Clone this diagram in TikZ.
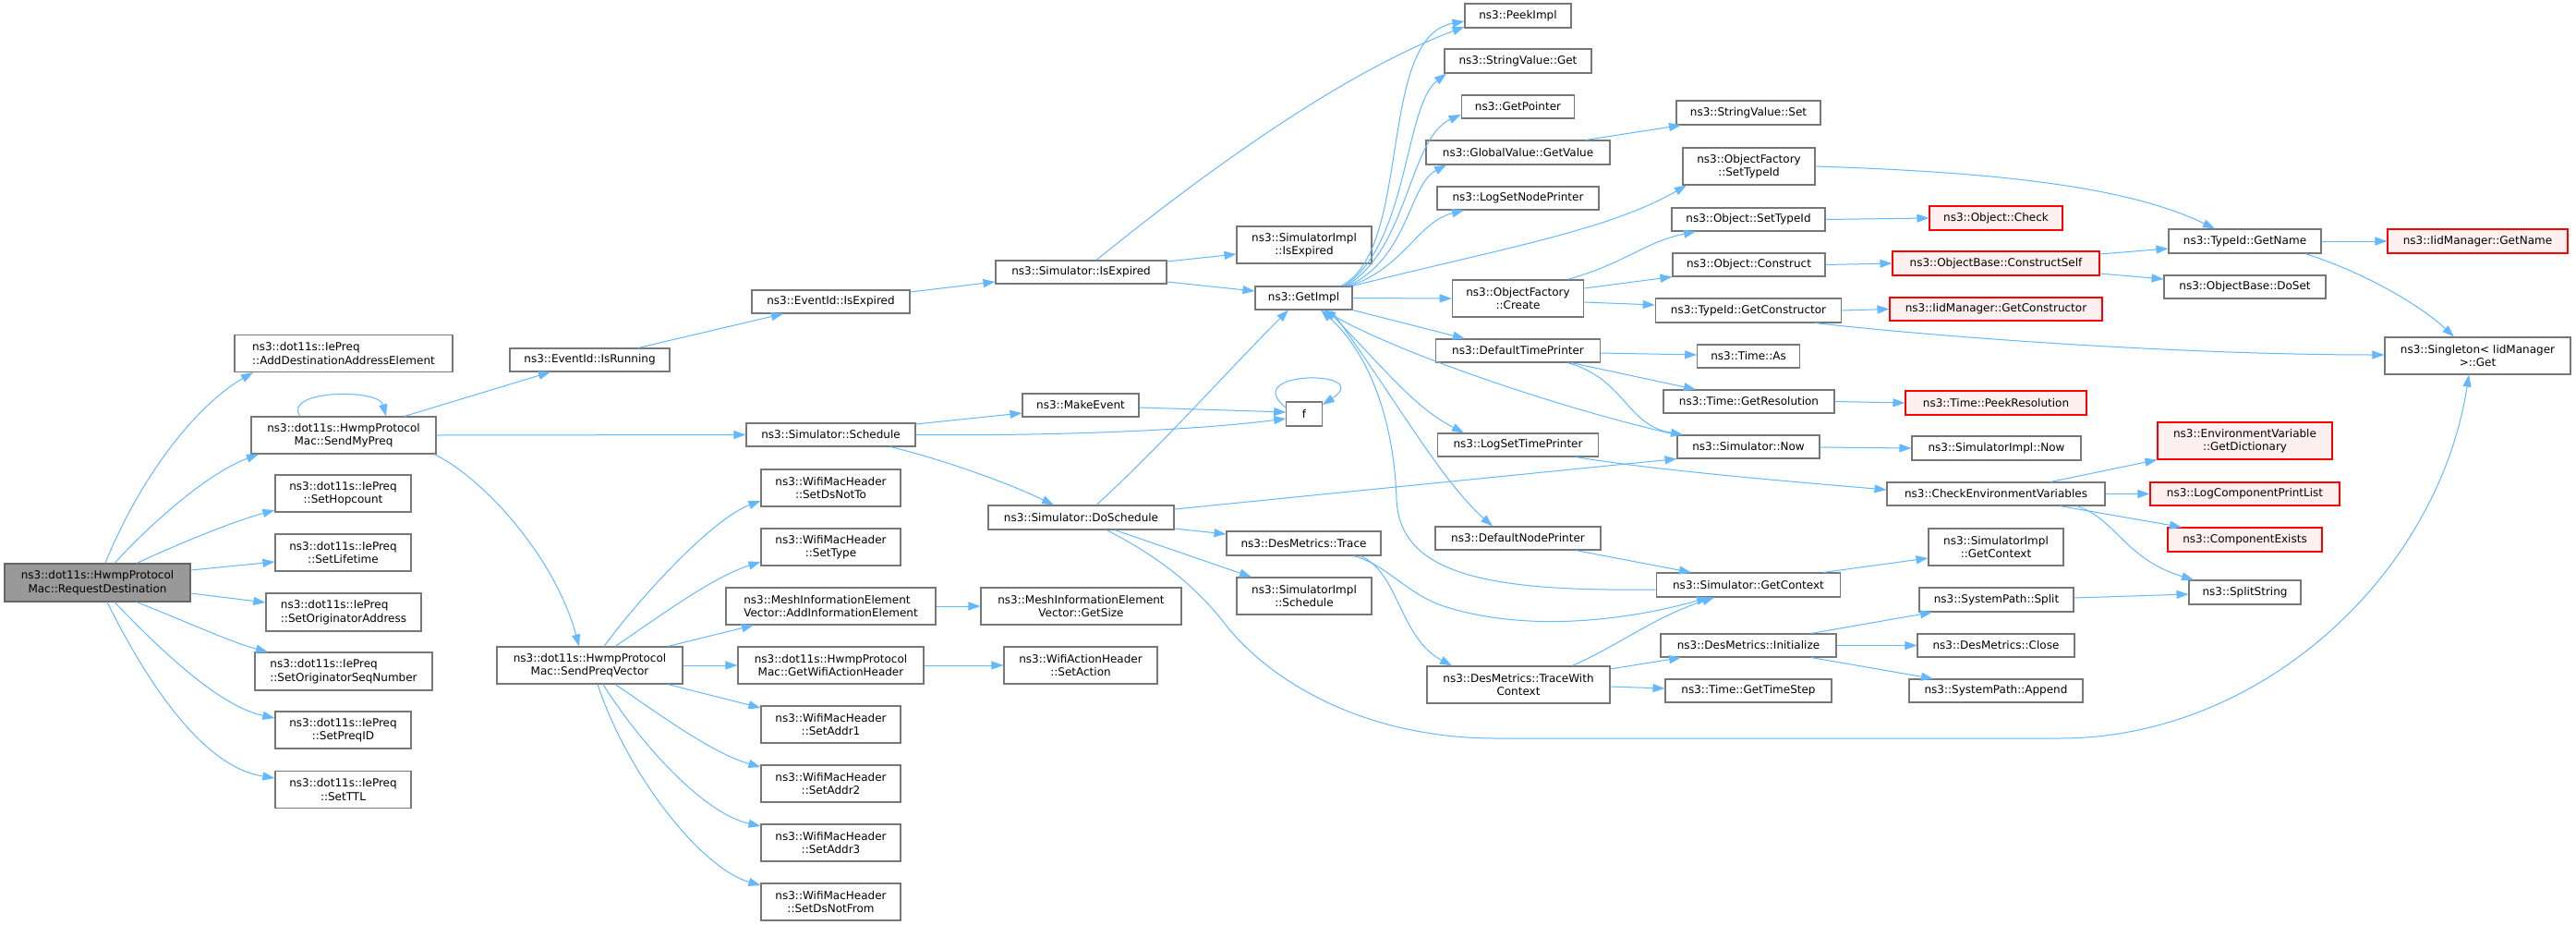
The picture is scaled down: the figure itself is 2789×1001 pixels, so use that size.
\documentclass[tikz,border=0pt]{standalone}
\usepackage{fontspec}
\newfontfamily\dvs{DejaVu Sans}
\usetikzlibrary{arrows.meta}
\definecolor{edgec}{HTML}{63B8FF}
\definecolor{boxc}{HTML}{777777}
\definecolor{rootfill}{HTML}{999999}
\definecolor{rootdraw}{HTML}{666666}
\definecolor{redfill}{HTML}{FFF0F0}
\tikzset{
  box/.style={draw=boxc, fill=white, line width=1.1pt, inner sep=0pt, align=center,
    font=\dvs\fontsize{12pt}{14.5pt}\selectfont, text=black},
  boxl/.style={box, align=left},
  rootbox/.style={box, draw=rootdraw, fill=rootfill},
  redbox/.style={box, draw=red, fill=redfill},
  e/.style={draw=edgec, line width=1pt, -{Triangle[length=13pt,width=9pt]}},
}
\begin{document}
\begin{tikzpicture}[x=1pt,y=-1pt]
\fill[white] (0,0) rectangle (2789,1001);
\useasboundingbox (0,0) rectangle (2789,1001);
% column 1
\node[rootbox, minimum width=201pt, minimum height=41pt] (R) at (105.5,630.5) {ns3::dot11s::HwmpProtocol\\Mac::RequestDestination};
\node[boxl, minimum width=236pt, minimum height=40pt] (A1) at (372,382.5) {ns3::dot11s::IePreq\\::AddDestinationAddressElement};
\node[box, minimum width=200pt, minimum height=40pt] (SMP) at (372,471) {ns3::dot11s::HwmpProtocol\\Mac::SendMyPreq};
\node[box, minimum width=147pt, minimum height=40pt] (SH) at (371.5,534) {ns3::dot11s::IePreq\\::SetHopcount};
\node[box, minimum width=147pt, minimum height=40pt] (SL) at (371.5,598) {ns3::dot11s::IePreq\\::SetLifetime};
\node[boxl, minimum width=168pt, minimum height=41pt] (SOA) at (372,662.5) {ns3::dot11s::IePreq\\::SetOriginatorAddress};
\node[boxl, minimum width=192pt, minimum height=41pt] (SOS) at (372,726.5) {ns3::dot11s::IePreq\\::SetOriginatorSeqNumber};
\node[box, minimum width=147pt, minimum height=40pt] (SPI) at (371.5,790) {ns3::dot11s::IePreq\\::SetPreqID};
\node[box, minimum width=147pt, minimum height=40pt] (STTL) at (371.5,854.5) {ns3::dot11s::IePreq\\::SetTTL};
% column 2
\node[box, minimum width=173pt, minimum height=25pt] (IR) at (638.5,389.5) {ns3::EventId::IsRunning};
\node[box, minimum width=201pt, minimum height=40pt] (SPV) at (638.5,720) {ns3::dot11s::HwmpProtocol\\Mac::SendPreqVector};
% column 3
\node[box, minimum width=171pt, minimum height=25pt] (EIE) at (899.5,326.5) {ns3::EventId::IsExpired};
\node[box, minimum width=183pt, minimum height=25pt] (SCH) at (899.5,470.5) {ns3::Simulator::Schedule};
\node[box, minimum width=151pt, minimum height=40pt] (DNT) at (899.5,528) {ns3::WifiMacHeader\\::SetDsNotTo};
\node[box, minimum width=151pt, minimum height=40pt] (ST) at (899.5,592) {ns3::WifiMacHeader\\::SetType};
\node[boxl, minimum width=227pt, minimum height=40pt] (AIE) at (899.5,656) {ns3::MeshInformationElement\\Vector::AddInformationElement};
\node[box, minimum width=201pt, minimum height=40pt] (GWA) at (899.5,720) {ns3::dot11s::HwmpProtocol\\Mac::GetWifiActionHeader};
\node[box, minimum width=151pt, minimum height=40pt] (SA1) at (899.5,784) {ns3::WifiMacHeader\\::SetAddr1};
\node[box, minimum width=151pt, minimum height=40pt] (SA2) at (899.5,848) {ns3::WifiMacHeader\\::SetAddr2};
\node[box, minimum width=151pt, minimum height=40pt] (SA3) at (899.5,912) {ns3::WifiMacHeader\\::SetAddr3};
\node[box, minimum width=151pt, minimum height=40pt] (SDF) at (899.5,976) {ns3::WifiMacHeader\\::SetDsNotFrom};
% column 4
\node[box, minimum width=185pt, minimum height=25pt] (SIE) at (1170.5,294.5) {ns3::Simulator::IsExpired};
\node[box, minimum width=126pt, minimum height=25pt] (ME) at (1170,438.5) {ns3::MakeEvent};
\node[box, minimum width=201pt, minimum height=26pt] (DS) at (1170.5,560) {ns3::Simulator::DoSchedule};
\node[box, minimum width=217pt, minimum height=40pt] (GS) at (1170.5,656) {ns3::MeshInformationElement\\Vector::GetSize};
\node[box, minimum width=166pt, minimum height=40pt] (SAct) at (1170,720) {ns3::WifiActionHeader\\::SetAction};
% column 5
\node[box, minimum width=146pt, minimum height=40pt] (SIIE) at (1412,265) {ns3::SimulatorImpl\\::IsExpired};
\node[box, minimum width=105pt, minimum height=25pt] (GI) at (1411.5,322.5) {ns3::GetImpl};
\node[box, minimum width=38.5pt, minimum height=26pt] (F) at (1412,448) {f};
\node[box, minimum width=167pt, minimum height=26pt] (DMT) at (1411.5,588) {ns3::DesMetrics::Trace};
\node[box, minimum width=146pt, minimum height=40pt] (SIS) at (1412,645) {ns3::SimulatorImpl\\::Schedule};
% column 6
\node[box, minimum width=115pt, minimum height=26pt] (PI) at (1643.5,17) {ns3::PeekImpl};
\node[box, minimum width=159pt, minimum height=26pt] (SVG) at (1643.5,66) {ns3::StringValue::Get};
\node[box, minimum width=122.5pt, minimum height=25pt] (GP) at (1643.5,115.5) {ns3::GetPointer};
\node[box, minimum width=199pt, minimum height=26pt] (GVV) at (1643.5,165) {ns3::GlobalValue::GetValue};
\node[box, minimum width=175pt, minimum height=25pt] (LSNP) at (1643.5,214.5) {ns3::LogSetNodePrinter};
\node[box, minimum width=142.5pt, minimum height=40pt] (OFC) at (1643.5,323) {ns3::ObjectFactory\\::Create};
\node[box, minimum width=177.5pt, minimum height=25pt] (DTP) at (1643.5,379.5) {ns3::DefaultTimePrinter};
\node[box, minimum width=174pt, minimum height=25pt] (LSTP) at (1643.5,481.5) {ns3::LogSetTimePrinter};
\node[box, minimum width=179pt, minimum height=25pt] (DNP) at (1643.5,582.5) {ns3::DefaultNodePrinter};
\node[box, minimum width=198pt, minimum height=40pt] (TWC) at (1644,741) {ns3::DesMetrics::TraceWith\\Context};
% column 7
\node[box, minimum width=156pt, minimum height=26pt] (SVS) at (1893,122) {ns3::StringValue::Set};
\node[box, minimum width=143pt, minimum height=40pt] (OFST) at (1893.5,180) {ns3::ObjectFactory\\::SetTypeId};
\node[box, minimum width=166pt, minimum height=25pt] (OST) at (1893,237.5) {ns3::Object::SetTypeId};
\node[box, minimum width=165pt, minimum height=25pt] (OC) at (1893.5,286.5) {ns3::Object::Construct};
\node[box, minimum width=201.5pt, minimum height=26pt] (TGC) at (1893,336) {ns3::TypeId::GetConstructor};
\node[box, minimum width=110.5pt, minimum height=25pt] (TA) at (1893,385.5) {ns3::Time::As};
\node[box, minimum width=185pt, minimum height=25pt] (TGR) at (1893.5,434.5) {ns3::Time::GetResolution};
\node[box, minimum width=154pt, minimum height=25pt] (SN) at (1893,483.5) {ns3::Simulator::Now};
\node[box, minimum width=199.5pt, minimum height=26pt] (SGC) at (1893,633) {ns3::Simulator::GetContext};
\node[box, minimum width=190pt, minimum height=25pt] (DMI) at (1893,698.5) {ns3::DesMetrics::Initialize};
\node[box, minimum width=180pt, minimum height=25pt] (TGTS) at (1893,747.5) {ns3::Time::GetTimeStep};
% column 8
\node[redbox, minimum width=144pt, minimum height=26pt] (OCh) at (2161,236) {ns3::Object::Check};
\node[redbox, minimum width=224pt, minimum height=26pt] (OBCS) at (2161,285) {ns3::ObjectBase::ConstructSelf};
\node[redbox, minimum width=230pt, minimum height=25pt] (IMGC) at (2161,334.5) {ns3::IidManager::GetConstructor};
\node[redbox, minimum width=196pt, minimum height=26pt] (TPR) at (2161,436) {ns3::Time::PeekResolution};
\node[box, minimum width=183pt, minimum height=26pt] (SIN) at (2161.5,485) {ns3::SimulatorImpl::Now};
\node[box, minimum width=236pt, minimum height=25pt] (CEV) at (2161,534.5) {ns3::CheckEnvironmentVariables};
\node[box, minimum width=146pt, minimum height=40pt] (SIGC) at (2161,592) {ns3::SimulatorImpl\\::GetContext};
\node[box, minimum width=167pt, minimum height=26pt] (SPS) at (2161.5,649) {ns3::SystemPath::Split};
\node[box, minimum width=170pt, minimum height=25pt] (DMC) at (2161,698.5) {ns3::DesMetrics::Close};
\node[box, minimum width=188pt, minimum height=25pt] (SPA) at (2161,747.5) {ns3::SystemPath::Append};
% column 9
\node[box, minimum width=165pt, minimum height=26pt] (TGN) at (2430.5,261) {ns3::TypeId::GetName};
\node[box, minimum width=175pt, minimum height=25pt] (OBDS) at (2430.5,310.5) {ns3::ObjectBase::DoSet};
\node[redbox, minimum width=189pt, minimum height=40pt] (EVGD) at (2430.5,477) {ns3::EnvironmentVariable\\::GetDictionary};
\node[redbox, minimum width=205pt, minimum height=25pt] (LCPL) at (2430.5,534.5) {ns3::LogComponentPrintList};
\node[redbox, minimum width=167pt, minimum height=26pt] (CE) at (2430.5,584) {ns3::ComponentExists};
\node[box, minimum width=121pt, minimum height=26pt] (SS) at (2430.5,641) {ns3::SplitString};
% column 10
\node[redbox, minimum width=195pt, minimum height=26pt] (IMGN) at (2682.5,261) {ns3::IidManager::GetName};
\node[box, minimum width=201pt, minimum height=40pt] (SG) at (2682.5,385) {ns3::Singleton< IidManager\\>::Get};
% ---------- edges ----------
\draw[e] (R.north -| 114,0) .. controls (150,520) and (210,440) .. (A1.south -| 274,0);
\draw[e] (R.north -| 124,0) .. controls (165,565) and (225,512) .. (SMP.south -| 280,0);
\draw[e] (R.north -| 148,0) .. controls (190,590) and (250,565) .. (SH.west |- 0,552);
\draw[e] (R.east |- 0,617) -- (SL.west |- 0,608);
\draw[e] (R.east |- 0,642) -- (SOA.west |- 0,652);
\draw[e] (R.south -| 148,0) .. controls (200,672) and (250,695) .. (SOS.north -| 290,0);
\draw[e] (R.south -| 124,0) .. controls (180,710) and (240,765) .. (SPI.west |- 0,777);
\draw[e] (R.south -| 116,0) .. controls (160,740) and (220,830) .. (STTL.west |- 0,842);
\draw[e] (SMP.north -| 325,0) .. controls (305,422) and (410,420) .. (SMP.north -| 418,0);
\draw[e] (SMP.north -| 438,0) -- (IR.south -| 596,0);
\draw[e] (SMP.east) -- (SCH.west);
\draw[e] (SMP.south -| 470,0) .. controls (520,515) and (600,600) .. (SPV.north -| 627,0);
\draw[e] (IR.north -| 691,0) -- (EIE.south -| 848,0);
\draw[e] (EIE.east |- 0,316) -- (SIE.west |- 0,305);
\draw[e] (SIE.north -| 1187,0) .. controls (1300,190) and (1450,80) .. (PI.west |- 0,29);
\draw[e] (SIE.east |- 0,283) -- (SIIE.west |- 0,275);
\draw[e] (SIE.east |- 0,305) -- (GI.west |- 0,315);
\draw[e] (SCH.east |- 0,459) -- (ME.west |- 0,447);
\draw[e] (SCH.east) .. controls (1150,472) and (1300,465) .. (F.west |- 0,453);
\draw[e] (SCH.south -| 964,0) .. controls (1020,497) and (1090,522) .. (DS.north -| 1141,0);
\draw[e] (ME.east |- 0,441) -- (F.west |- 0,446);
\draw[e] (F.west |- 0,441) .. controls (1340,400) and (1490,400) .. (F.east |- 0,438);
\draw[e] (DS.north -| 1187,0) .. controls (1260,480) and (1330,400) .. (GI.south -| 1395,0);
\draw[e] (DS.east |- 0,551) -- (SN.south west);
\draw[e] (DS.east |- 0,572) -- (DMT.west |- 0,578);
\draw[e] (DS.south -| 1207,0) -- (SIS.north -| 1355,0);
\draw[e] (DS.south -| 1198,0) .. controls (1260,605) and (1300,640) .. (1330,680) .. controls (1380,740) and (1480,799) .. (1620,799) -- (2230,799) .. controls (2450,799) and (2640,620) .. (SG.south -| 2673,0);
\draw[e] (DMT.south -| 1465,0) .. controls (1500,610) and (1520,640) .. (1560,655) .. controls (1650,685) and (1760,672) .. (SGC.south -| 1850,0);
\draw[e] (DMT.south -| 1473,0) .. controls (1515,620) and (1515,690) .. (TWC.north -| 1572,0);
\draw[e] (TWC.north -| 1702,0) .. controls (1750,700) and (1790,668) .. (SGC.south -| 1856,0);
\draw[e] (TWC.east |- 0,724) -- (DMI.south -| 1820,0);
\draw[e] (TWC.east |- 0,743) -- (TGTS.west |- 0,745);
\draw[e] (SGC.west |- 0,638) .. controls (1620,640) and (1515,625) .. (1512,540) .. controls (1509,450) and (1480,380) .. (GI.south -| 1430,0);
\draw[e] (SGC.north -| 1974,0) -- (SIGC.west |- 0,604);
\draw[e] (DMI.north -| 1961,0) -- (SPS.south -| 2092,0);
\draw[e] (DMI.east) -- (DMC.west);
\draw[e] (DMI.south -| 1961,0) -- (SPA.north -| 2093,0);
\draw[e] (SPS.east |- 0,647) -- (SS.west |- 0,643);
% GetImpl fan
\draw[e] (GI.north -| 1452,0) .. controls (1530,270) and (1490,40) .. (PI.west |- 0,23);
\draw[e] (GI.north -| 1455,0) .. controls (1525,265) and (1520,115) .. (SVG.south -| 1566,0);
\draw[e] (GI.north -| 1457,0) .. controls (1525,270) and (1525,150) .. (GP.west |- 0,124);
\draw[e] (GI.north -| 1459,0) .. controls (1525,280) and (1525,200) .. (GVV.south -| 1566,0);
\draw[e] (GI.north -| 1461,0) .. controls (1520,290) and (1535,240) .. (LSNP.south -| 1585,0);
\draw[e] (GI.north east) .. controls (1620,270) and (1740,250) .. (OFST.south -| 1826,0);
\draw[e] (GI.east) -- (OFC.west);
\draw[e] (GI.south east) -- (DTP.north -| 1586,0);
\draw[e] (SN.north west) .. controls (1700,445) and (1520,385) .. (GI.south -| 1433,0);
\draw[e] (GI.south -| 1437,0) .. controls (1500,400) and (1530,440) .. (LSTP.north -| 1585,0);
\draw[e] (GI.south -| 1441,0) .. controls (1510,430) and (1560,520) .. (DNP.north -| 1616,0);
\draw[e] (SN.east |- 0,484) -- (SIN.west |- 0,485);
\draw[e] (DTP.east |- 0,382) -- (TA.west |- 0,384);
\draw[e] (DTP.south -| 1701,0) -- (TGR.north -| 1836,0);
\draw[e] (DTP.south -| 1697,0) .. controls (1760,410) and (1760,460) .. (SN.north -| 1822,0);
\draw[e] (TGR.east) -- (TPR.west);
\draw[e] (LSTP.south -| 1706,0) .. controls (1800,510) and (1950,522) .. (CEV.west |- 0,530);
\draw[e] (DNP.south -| 1706,0) -- (SGC.north -| 1831,0);
\draw[e] (CEV.north -| 2220,0) -- (EVGD.south west);
\draw[e] (CEV.east) -- (LCPL.west);
\draw[e] (CEV.south -| 2230,0) -- (CE.north -| 2362,0);
\draw[e] (CEV.south -| 2248,0) .. controls (2290,560) and (2300,605) .. (SS.north -| 2375,0);
\draw[e] (GVV.north -| 1717,0) -- (SVS.south -| 1820,0);
\draw[e] (OFST.east) .. controls (2150,186) and (2300,200) .. (TGN.north -| 2398,0);
\draw[e] (OFC.north -| 1697,0) .. controls (1760,285) and (1780,262) .. (OST.south -| 1836,0);
\draw[e] (OFC.east |- 0,312) -- (OC.south west);
\draw[e] (OFC.east |- 0,327) -- (TGC.west |- 0,330);
\draw[e] (OST.east) -- (OCh.west);
\draw[e] (OC.east) -- (OBCS.west);
\draw[e] (OBCS.east |- 0,275) -- (TGN.west |- 0,269);
\draw[e] (OBCS.east |- 0,296) -- (OBDS.west |- 0,302);
\draw[e] (TGC.east) -- (IMGC.west);
\draw[e] (TGC.south -| 1965,0) .. controls (2150,370) and (2400,384) .. (SG.west |- 0,384);
\draw[e] (TGN.east) -- (IMGN.west);
\draw[e] (TGN.south -| 2496,0) .. controls (2560,295) and (2620,330) .. (SG.north -| 2657,0);
% SendPreqVector fan
\draw[e] (SPV.north -| 654,0) .. controls (690,650) and (770,562) .. (DNT.west |- 0,542);
\draw[e] (SPV.north -| 666,0) .. controls (710,670) and (770,625) .. (ST.west |- 0,608);
\draw[e] (SPV.north -| 723,0) -- (AIE.south -| 816,0);
\draw[e] (SPV.east) -- (GWA.west);
\draw[e] (SPV.south -| 723,0) -- (SA1.west |- 0,766);
\draw[e] (SPV.south -| 666,0) .. controls (710,770) and (770,815) .. (SA2.west |- 0,830);
\draw[e] (SPV.south -| 653,0) .. controls (690,800) and (760,880) .. (SA3.west |- 0,894);
\draw[e] (SPV.south -| 647,0) .. controls (680,840) and (760,940) .. (SDF.west |- 0,958);
\draw[e] (AIE.east) -- (GS.west);
\draw[e] (GWA.east) -- (SAct.west);
\end{tikzpicture}
\end{document}
